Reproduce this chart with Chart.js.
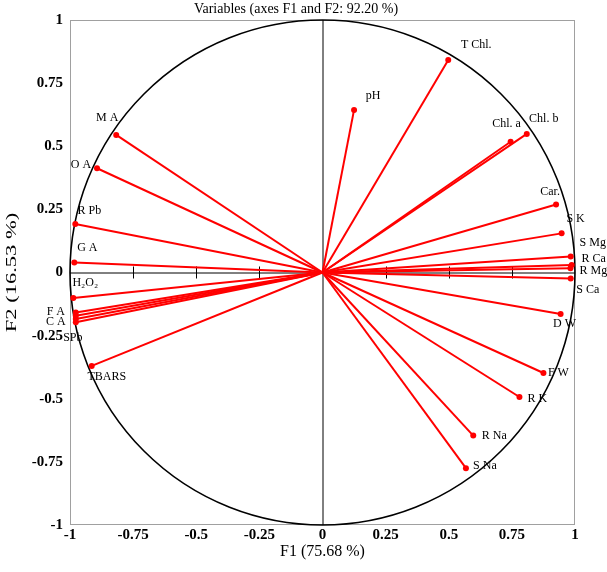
<!DOCTYPE html>
<html>
<head>
<meta charset="utf-8">
<title>Variables (axes F1 and F2: 92.20 %)</title>
<script src="https://cdn.jsdelivr.net/npm/chart.js@4.4.1/dist/chart.umd.min.js"></script>
<style>
  html, body { margin: 0; padding: 0; background: #fff; }
  #wrap { width: 607px; height: 572px; }
</style>
</head>
<body>
<div id="wrap"><canvas id="pcaChart" width="607" height="572"></canvas></div>
<script>
// variables and their loadings on F1 / F2
const variableNames = [
  "T Chl.", "pH", "Chl. a", "Chl. b", "Car.", "S K", "S Mg", "R Ca", "R Mg", "S Ca",
  "D W", "F W", "R K", "R Na", "S Na",
  "M A", "O A", "R Pb", "G A", "H\u2082O\u2082", "F A", "", "SPb", "C A", "TBARS"
];
const f1Values = [
  0.498, 0.125, 0.745, 0.809, 0.925, 0.947, 0.983, 0.987, 0.982, 0.983,
  0.943, 0.875, 0.780, 0.597, 0.568,
  -0.817, -0.893, -0.979, -0.983, -0.987, -0.977, -0.977, -0.977, -0.977, -0.914
];
const f2Values = [
  0.842, 0.644, 0.518, 0.549, 0.269, 0.155, 0.063, 0.030, 0.017, -0.024,
  -0.164, -0.398, -0.493, -0.646, -0.775,
  0.545, 0.413, 0.192, 0.040, -0.101, -0.158, -0.171, -0.184, -0.197, -0.370
];
const tickValues = [-1, -0.75, -0.5, -0.25, 0, 0.25, 0.5, 0.75, 1];
const tickLabels = ["-1", "-0.75", "-0.5", "-0.25", "0", "0.25", "0.5", "0.75", "1"];

// where each name sits relative to its point (px)
const labelOffsets = [
  [28, -15], [19, -14], [-4, -18], [17, -15], [-6, -13], [14, -15], [22, -14], [22, -6], [23, 3], [17, 11],
  [4, 10], [15, 0], [18, 2], [21, 0], [19, -2],
  [-9, -17], [-16, -3], [14, -13], [13, -15], [12, -15], [-20, -1], [0, 0], [-3, 19], [-20, 0], [15, 11]
];

const SERIF = "'Liberation Serif', 'Times New Roman', serif";
const RED = "#ff0000";

const circlePlugin = {
  id: "circlePlugin",
  beforeDatasetsDraw(chart) {
    const { ctx, chartArea, scales: { x, y } } = chart;
    const cx = x.getPixelForValue(0);
    const cy = y.getPixelForValue(0);
    ctx.save();

    // frame
    ctx.strokeStyle = "#a0a0a0";
    ctx.lineWidth = 1;
    ctx.strokeRect(chartArea.left + 0.5, chartArea.top + 0.5,
      chartArea.width - 1, chartArea.height - 1);

    // axes through the origin
    ctx.strokeStyle = "#000";
    ctx.beginPath();
    ctx.moveTo(x.getPixelForValue(-1), cy + 0.5);
    ctx.lineTo(x.getPixelForValue(1), cy + 0.5);
    ctx.moveTo(cx + 0.5, y.getPixelForValue(1));
    ctx.lineTo(cx + 0.5, y.getPixelForValue(-1));
    tickValues.forEach(v => {
      if (v === 0 || Math.abs(v) === 1) return;
      const px = Math.round(x.getPixelForValue(v)) + 0.5;
      ctx.moveTo(px, cy - 6);
      ctx.lineTo(px, cy + 6);
    });
    ctx.stroke();

    // unit circle
    const r = x.getPixelForValue(1) - cx;
    ctx.lineWidth = 1.6;
    ctx.beginPath();
    ctx.arc(cx, cy, r, 0, Math.PI * 2);
    ctx.stroke();

    // title
    ctx.fillStyle = "#000";
    ctx.font = "14px " + SERIF;
    ctx.textAlign = "center";
    ctx.textBaseline = "middle";
    ctx.fillText("Variables (axes F1 and F2: 92.20 %)", 296, 9);

    // y axis title (stretched along its length like the source)
    ctx.save();
    ctx.translate(12, cy);
    ctx.rotate(-Math.PI / 2);
    ctx.scale(1.5, 1);
    ctx.font = "15px " + SERIF;
    ctx.fillText("F2 (16.53 %)", 0, 0);
    ctx.restore();
    ctx.restore();
  },
  afterDatasetsDraw(chart) {
    const { ctx, scales: { x, y } } = chart;
    ctx.save();
    ctx.fillStyle = "#000";
    ctx.font = "12px " + SERIF;
    ctx.textAlign = "center";
    ctx.textBaseline = "middle";
    variableNames.forEach((name, i) => {
      if (!name) return;
      const px = x.getPixelForValue(f1Values[i]) + labelOffsets[i][0];
      const py = y.getPixelForValue(f2Values[i]) + labelOffsets[i][1];
      ctx.fillText(name, px, py);
    });
    ctx.restore();
  }
};

function axisOptions(titleText, isX) {
  return {
    type: "linear",
    min: -1,
    max: 1,
    grid: { display: false, drawTicks: false },
    border: { display: false },
    afterBuildTicks: scale => {
      scale.ticks = tickValues.map(v => ({ value: v }));
    },
    afterFit: scale => {
      if (isX) scale.height = 47;
      else scale.width = 70;
    },
    ticks: {
      autoSkip: false,
      maxRotation: 0,
      padding: isX ? 1 : 7,
      color: "#000",
      font: { family: SERIF, size: 15, weight: "bold" },
      callback: (value, index) => tickLabels[index]
    },
    title: {
      display: isX,
      text: titleText,
      color: "#000",
      font: { family: SERIF, size: 16 },
      padding: { top: 0, bottom: 11 }
    }
  };
}

const ctx = document.getElementById("pcaChart");
new Chart(ctx, {
  type: "scatter",
  data: {
    datasets: variableNames.map((name, i) => ({
      label: name,
      data: [{ x: 0, y: 0 }, { x: f1Values[i], y: f2Values[i] }],
      showLine: true,
      borderColor: RED,
      borderWidth: 2,
      pointRadius: c => (c.dataIndex === 1 ? 3 : 0),
      pointBackgroundColor: RED,
      pointBorderWidth: 0
    }))
  },
  options: {
    responsive: false,
    animation: false,
    events: [],
    layout: { padding: { top: 20, right: 32, bottom: 0, left: 0 } },
    plugins: {
      legend: { display: false },
      tooltip: { enabled: false },
      title: { display: false }
    },
    scales: {
      x: axisOptions("F1 (75.68 %)", true),
      y: axisOptions("F2 (16.53 %)", false)
    }
  },
  plugins: [circlePlugin]
});
</script>
</body>
</html>
